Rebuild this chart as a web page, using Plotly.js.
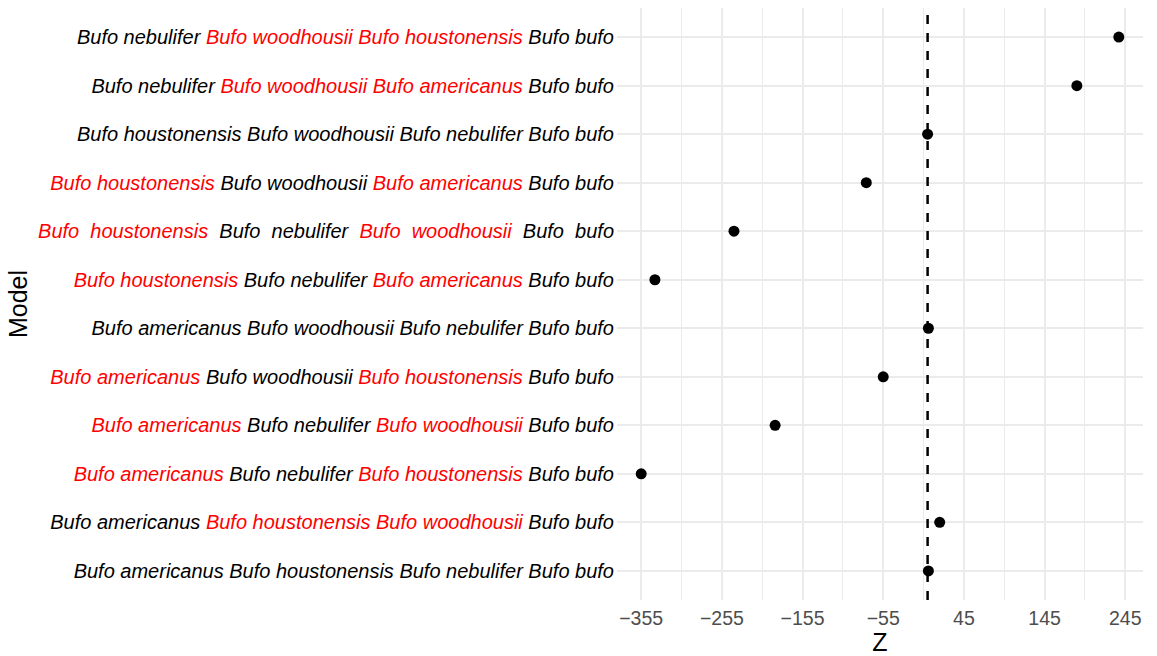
<!DOCTYPE html>
<html>
<head>
<meta charset="utf-8">
<script src="https://cdn.plot.ly/plotly-3.0.1.min.js"></script>
<style>html,body{margin:0;padding:0;background:#fff;}#chart{width:1157px;height:656px;}</style>
</head>
<body>
<div id="chart"></div>
<script>
// Models, top to bottom as drawn
const models = [
  ["Bufo nebulifer", "Bufo woodhousii", "Bufo houstonensis", "Bufo bufo"],
  ["Bufo nebulifer", "Bufo woodhousii", "Bufo americanus", "Bufo bufo"],
  ["Bufo houstonensis", "Bufo woodhousii", "Bufo nebulifer", "Bufo bufo"],
  ["Bufo houstonensis", "Bufo woodhousii", "Bufo americanus", "Bufo bufo"],
  ["Bufo houstonensis", "Bufo nebulifer", "Bufo woodhousii", "Bufo bufo"],
  ["Bufo houstonensis", "Bufo nebulifer", "Bufo americanus", "Bufo bufo"],
  ["Bufo americanus", "Bufo woodhousii", "Bufo nebulifer", "Bufo bufo"],
  ["Bufo americanus", "Bufo woodhousii", "Bufo houstonensis", "Bufo bufo"],
  ["Bufo americanus", "Bufo nebulifer", "Bufo woodhousii", "Bufo bufo"],
  ["Bufo americanus", "Bufo nebulifer", "Bufo houstonensis", "Bufo bufo"],
  ["Bufo americanus", "Bufo houstonensis", "Bufo woodhousii", "Bufo bufo"],
  ["Bufo americanus", "Bufo houstonensis", "Bufo nebulifer", "Bufo bufo"]
];
// which of the four species are highlighted in red (1 = red)
const redFlags = [
  [0, 1, 1, 0],
  [0, 1, 1, 0],
  [0, 0, 0, 0],
  [1, 0, 1, 0],
  [1, 0, 1, 0],
  [1, 0, 1, 0],
  [0, 0, 0, 0],
  [1, 0, 1, 0],
  [1, 0, 1, 0],
  [1, 0, 1, 0],
  [0, 1, 1, 0],
  [0, 0, 0, 0]
];
// separator between species names (row 5 has wider spacing)
const separators = [" ", " ", " ", " ", "&nbsp; ", " ", " ", " ", " ", " ", " ", " "];
// Z values
const zValues = [237, 185, 0, -76, -240, -338, 1, -55, -189, -355, 15, 1];
const xTicks = [-355, -255, -155, -55, 45, 145, 245];
const refLine = 0;

const categories = models.map(m => m.join(" "));
const labels = models.map((m, i) => m.map((sp, j) => {
  const words = sp.split(" ").join(separators[i]);
  return redFlags[i][j] ? '<span style="color:#FF0000">' + words + '</span>' : words;
}).join(separators[i]));

const n = categories.length;
const trace = {
  type: "scatter",
  mode: "markers",
  x: zValues,
  y: categories,
  marker: {color: "#000000", size: 11},
  hoverinfo: "x+y"
};

const layout = {
  width: 1157,
  height: 656,
  margin: {l: 617, r: 14, t: 8, b: 56},
  paper_bgcolor: "#ffffff",
  plot_bgcolor: "#ffffff",
  font: {family: "Liberation Sans, Arial, sans-serif", color: "#000000"},
  showlegend: false,
  xaxis: {
    range: [-385, 267],
    tickvals: xTicks,
    ticktext: xTicks.map(v => v < 0 ? "\u2212" + Math.abs(v) : String(v)),
    showgrid: true,
    gridcolor: "#EBEBEB",
    gridwidth: 2,
    minor: {tickvals: xTicks.map(v => v + 50).concat([-405]), showgrid: true, gridcolor: "#EBEBEB", gridwidth: 1},
    zeroline: false,
    showline: false,
    ticks: "",
    ticklabelstandoff: 4,
    tickfont: {size: 19.5, color: "#4D4D4D"},
    title: {text: "Z", font: {size: 25, color: "#000000"}, standoff: 0}
  },
  yaxis: {
    type: "category",
    categoryorder: "array",
    categoryarray: categories,
    tickvals: categories,
    ticktext: labels,
    range: [n - 1 + 0.6, -0.6],
    showgrid: true,
    gridcolor: "#EBEBEB",
    gridwidth: 2,
    zeroline: false,
    showline: false,
    ticks: "",
    ticklabelstandoff: 2,
    tickfont: {size: 20, color: "#000000", style: "italic"},
    title: {text: "Model", font: {size: 25, color: "#000000"}, standoff: 3}
  },
  shapes: [{
    type: "line",
    xref: "x", yref: "paper",
    x0: refLine, x1: refLine, y0: 0, y1: 1,
    line: {color: "#000000", width: 2.5, dash: "dash"}
  }]
};

Plotly.newPlot("chart", [trace], layout, {displayModeBar: false, staticPlot: true});
</script>
</body>
</html>
